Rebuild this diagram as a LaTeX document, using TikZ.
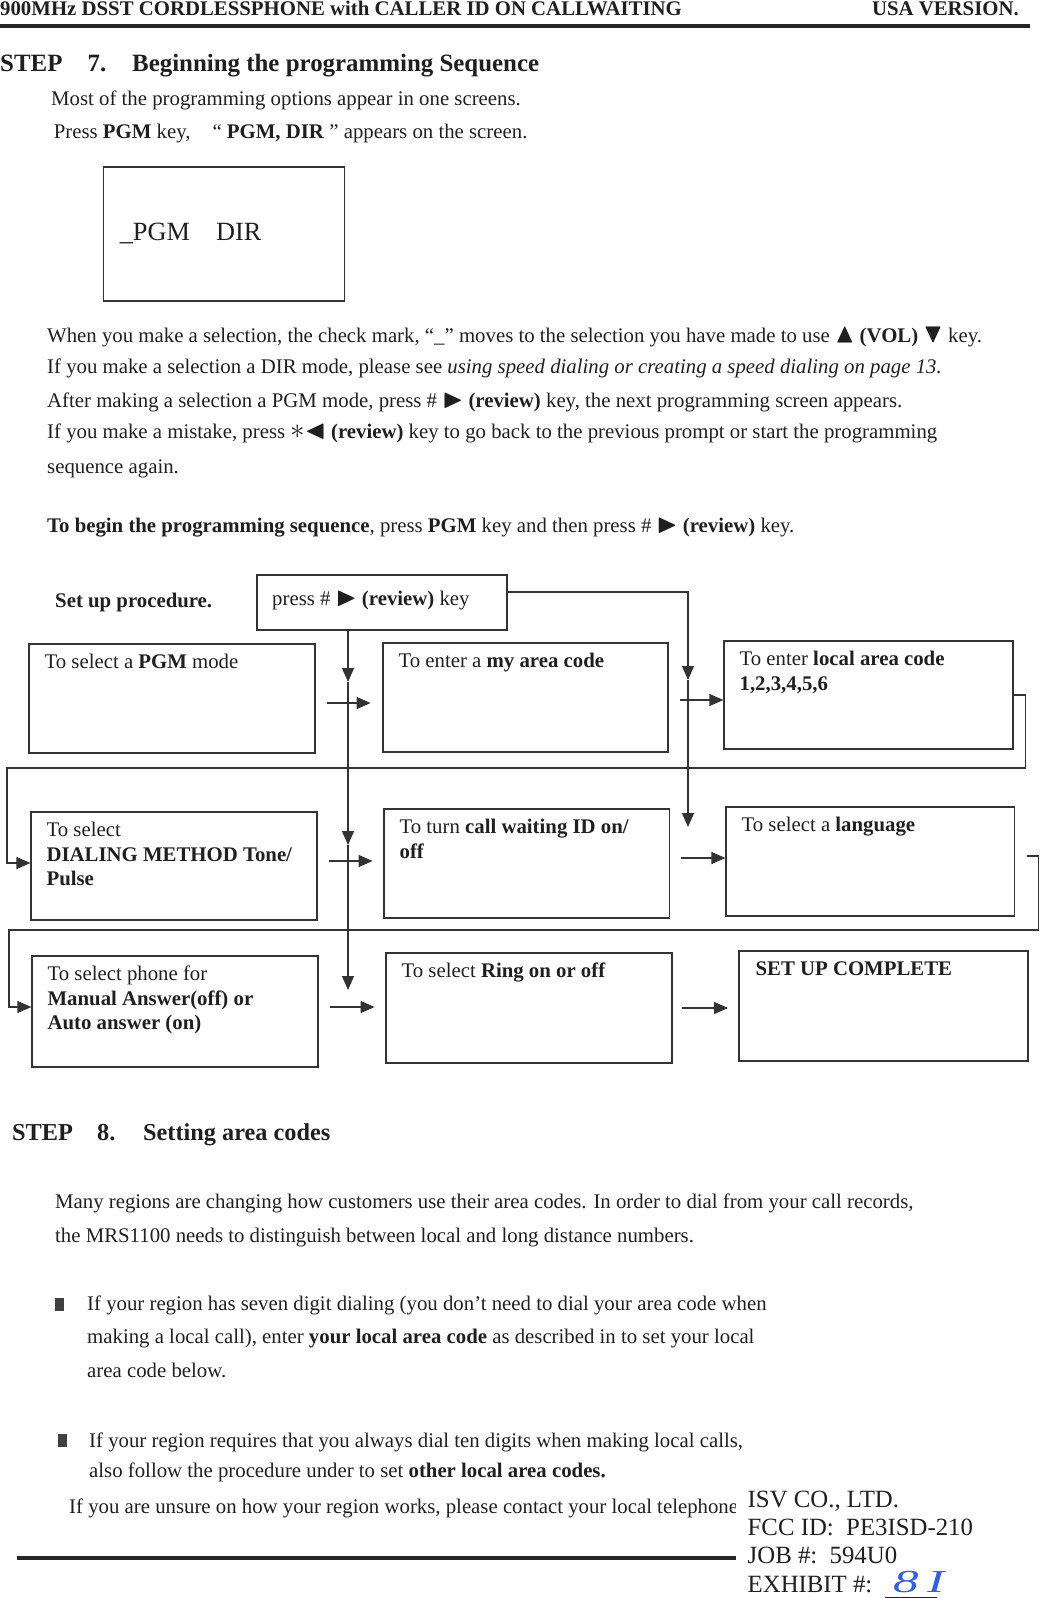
\documentclass[tikz,border=0pt]{standalone}
\usepackage{fontspec}
\usepackage{amssymb}
\usepackage{graphicx}
\setmainfont{Liberation Serif}
\usetikzlibrary{arrows.meta,fit,positioning}

\definecolor{ink}{RGB}{55,95,215}
\newcommand{\headfont}{\fontsize{20.8}{24}\selectfont\bfseries}
\newcommand{\stepfont}{\fontsize{24.9}{28}\selectfont\bfseries}
\newcommand{\bodyfont}{\fontsize{20.8}{24}\selectfont}
\newcommand{\boxfont}{\fontsize{20.8}{24.5}\selectfont}
\newcommand{\rtri}{\scalebox{1.3}{$\blacktriangleright$}}
\newcommand{\ltri}{\scalebox{1.3}{$\blacktriangleleft$}}
\newcommand{\utri}{\scalebox{1.3}{$\blacktriangle$}}
\newcommand{\dtri}{\scalebox{1.3}{$\blacktriangledown$}}

\begin{document}
\begin{tikzpicture}[x=1pt, y=-1pt, >={Triangle[length=14pt,width=12pt]},
	every node/.append style={text=black!88},
	line/.style={draw=black!80, line width=1.2pt},
	stepbox/.style={line, inner sep=0pt, fit={#1}},
	boxtext/.style={anchor=north west, inner sep=0pt, align=left, font=\boxfont},
	bodytext/.style={anchor=base west, inner sep=0pt, font=\bodyfont},
	bulletsq/.style={fill=black!75, inner sep=0pt, minimum width=9pt, minimum height=13pt},
	isvblock/.style={anchor=north west, fill=white, inner xsep=11.5pt, inner ysep=0pt, align=left, font=\fontsize{24.8}{28.4}\selectfont}]
	\useasboundingbox (0,0) rectangle (1039,1598);

	\node[anchor=base west, inner sep=0pt, font=\headfont] (head) at (0,15) {900MHz DSST CORDLESSPHONE with CALLER ID ON CALLWAITING};
	\node[anchor=base east, inner sep=0pt, font=\headfont] (usa) at (1019,15) {USA VERSION.};
	\draw[black!85, line width=3.5pt] (0,26) -- (1030,26);

	\node[anchor=base west, inner sep=0pt, font=\stepfont] (step7) at (0,71) {\makebox[87.5pt][l]{STEP}\makebox[44.5pt][l]{7.}Beginning the programming Sequence};
	\node[bodytext] (intro1) at (51,105) {Most of the programming options appear in one screens.};
	\node[bodytext] (intro2) at (53.6,138) {Press \textbf{PGM} key,\hspace{22pt}“ \textbf{PGM, DIR} ” appears on the screen.};

	\node[stepbox={(103.6,167) (344.6,301)}] (screen) {};
	\node[anchor=base west, inner sep=0pt, font=\fontsize{26.3}{30}\selectfont] (screentxt) at (119.6,240) {\_PGM\quad DIR};

	\node[bodytext] (para1) at (47,342) {When you make a selection, the check mark, “\_” moves to the selection you have made to use \utri{} \textbf{(VOL)} \dtri{} key.};
	\node[bodytext] (para2) at (47,373) {If you make a selection a DIR mode, please see \textit{using speed dialing or creating a speed dialing on page 13.}};
	\node[bodytext] (para3) at (47,407) {After making a selection a PGM mode, press \# \rtri{} \textbf{(review)} key, the next programming screen appears.};
	\node[bodytext] (para4) at (47,438) {If you make a mistake, press \scalebox{1.4}{$\ast$}\ltri{} \textbf{(review)} key to go back to the previous prompt or start the programming};
	\node[bodytext] (para5) at (47,473) {sequence again.};
	\node[bodytext] (begin) at (47,532) {\textbf{To begin the programming sequence}, press \textbf{PGM} key and then press \# \rtri{} \textbf{(review)} key.};

	\node[anchor=base west, inner sep=0pt, font=\boxfont\bfseries] (setup) at (55,607) {Set up procedure.};
	\node[stepbox={(257,575) (507,630)}] (press) {};
	\node[anchor=base west, inner sep=0pt, font=\boxfont] (presstxt) at (272,605) {press \# \rtri{} \textbf{(review)} key};

	\node[stepbox={(29,644) (315,753)}] (pgm) {};
	\node[stepbox={(383,643) (668,752)}] (myarea) {};
	\node[stepbox={(724,641) (1013,749)}] (local) {};
	\node[stepbox={(31,812) (317,920)}] (dial) {};
	\node[stepbox={(384,809) (669.5,918)}] (callwait) {};
	\node[stepbox={(726,807) (1014.6,916)}] (lang) {};
	\node[stepbox={(32,956) (318,1067)}] (phone) {};
	\node[stepbox={(386,953) (672,1063)}] (ring) {};
	\node[stepbox={(739,951) (1028,1061)}] (complete) {};

	\node[boxtext] (pgmtxt) at ([shift={(16,8)}]pgm.north west) {\strut To select a \textbf{PGM} mode};
	\node[boxtext] (myareatxt) at ([shift={(16,8)}]myarea.north west) {\strut To enter a \textbf{my area code}};
	\node[boxtext] (localtxt) at ([shift={(16,8)}]local.north west) {\strut To enter \textbf{local area code}\\ \textbf{1,2,3,4,5,6}};
	\node[boxtext] (dialtxt) at ([shift={(16,8)}]dial.north west) {\strut To select\\ \textbf{DIALING METHOD Tone/}\\ \textbf{Pulse}};
	\node[boxtext] (callwaittxt) at ([shift={(16,8)}]callwait.north west) {\strut To turn \textbf{call waiting ID on/}\\ \textbf{off}};
	\node[boxtext] (langtxt) at ([shift={(16,8)}]lang.north west) {\strut To select a \textbf{language}};
	\node[boxtext] (phonetxt) at ([shift={(16,8)}]phone.north west) {\strut To select phone for\\ \textbf{Manual Answer(off) or}\\ \textbf{Auto answer (on)}};
	\node[boxtext] (ringtxt) at ([shift={(16,8)}]ring.north west) {\strut To select \textbf{Ring on or off}};
	\node[boxtext] (completetxt) at ([shift={(17,8)}]complete.north west) {\strut\textbf{SET UP COMPLETE}};

	\coordinate (a1) at (348,682);
	\coordinate (a2) at (348,845);
	\coordinate (a3) at (348,990);
	\coordinate (b0) at (688,592);
	\coordinate (b1) at (688,680);
	\coordinate (b2) at (688,827);
	\coordinate (loopA) at (7,768);
	\coordinate (loopB) at (9,930);

	\draw[line, ->] (press.south -| a1) -- (a1);
	\draw[line, ->] (a1) -- (a2);
	\draw[line, ->] (a2) -- (a3);
	\draw[line, ->] (press.east |- b0) -- (b0) -- (b1);
	\draw[line, ->] (b1) -- (b2);

	\draw[line, ->] ([shift={(11,4.5)}]pgm.east) -- ++(44,0);
	\draw[line, ->] ([shift={(11,2.5)}]myarea.east) -- (local.west |- 0,700);
	\draw[line, ->] ([shift={(11,-5)}]dial.east) -- ++(44,0);
	\draw[line, ->] ([shift={(11,-5.5)}]callwait.east) -- (lang.west |- 0,858);
	\draw[line, ->] ([shift={(11,-4.5)}]phone.east) -- ++(45,0);
	\draw[line, ->] ([shift={(9.5,0)}]ring.east) -- ++(46,0);

	\draw[line, ->] (local.east) -- ++(12,0) |- (loopA) |- ([yshift=3pt]dial.west);
	\draw[line, ->] ([shift={(12,-5.5)}]lang.east) -- ++(11.5,0) |- (loopB) |- ([yshift=4.5pt]phone.west);

	\node[anchor=base west, inner sep=0pt, font=\fontsize{24.3}{28}\selectfont\bfseries] (step8) at (12,1140) {\makebox[85pt][l]{STEP}\makebox[46pt][l]{8.}Setting area codes};
	\node[bodytext] (area1) at (55,1208) {Many regions are changing how customers use their area codes. In order to dial from your call records,};
	\node[bodytext] (area2) at (55,1242) {the MRS1100 needs to distinguish between local and long distance numbers.};
	\node[bulletsq] (bulA) at (59.5,1304) {};
	\node[bodytext] (seven1) at (87,1310) {If your region has seven digit dialing (you don't need to dial your area code when};
	\node[bodytext] (seven2) at (87,1343) {making a local call), enter \textbf{your local area code} as described in to set your local};
	\node[bodytext] (seven3) at (87,1377) {area code below.};
	\node[bulletsq] (bulB) at (62,1440) {};
	\node[bodytext] (ten1) at (89,1447) {If your region requires that you always dial ten digits when making local calls,};
	\node[bodytext] (ten2) at (89,1477) {also follow the procedure under to set \textbf{other local area codes.}};
	\node[bodytext] (unsure) at (69,1513) {If you are unsure on how your region works, please contact your local telephone};
	\draw[black!85, line width=4pt] (17,1558) -- (735.5,1558);

	\node[isvblock] (isv) at (736,1487.1) {\strut ISV CO., LTD.\\ FCC ID:\ \ PE3ISD-210\\ JOB \#:\ \ 594U0\\ EXHIBIT \#:\ \ \rule[-5pt]{52pt}{0.8pt}};
	\node[anchor=base west, inner sep=0pt, font=\fontsize{32}{32}\selectfont\itshape, text=ink] (exhibit) at (893,1592) {\scalebox{1.6}[1]{8\,I}};
\end{tikzpicture}
\end{document}
